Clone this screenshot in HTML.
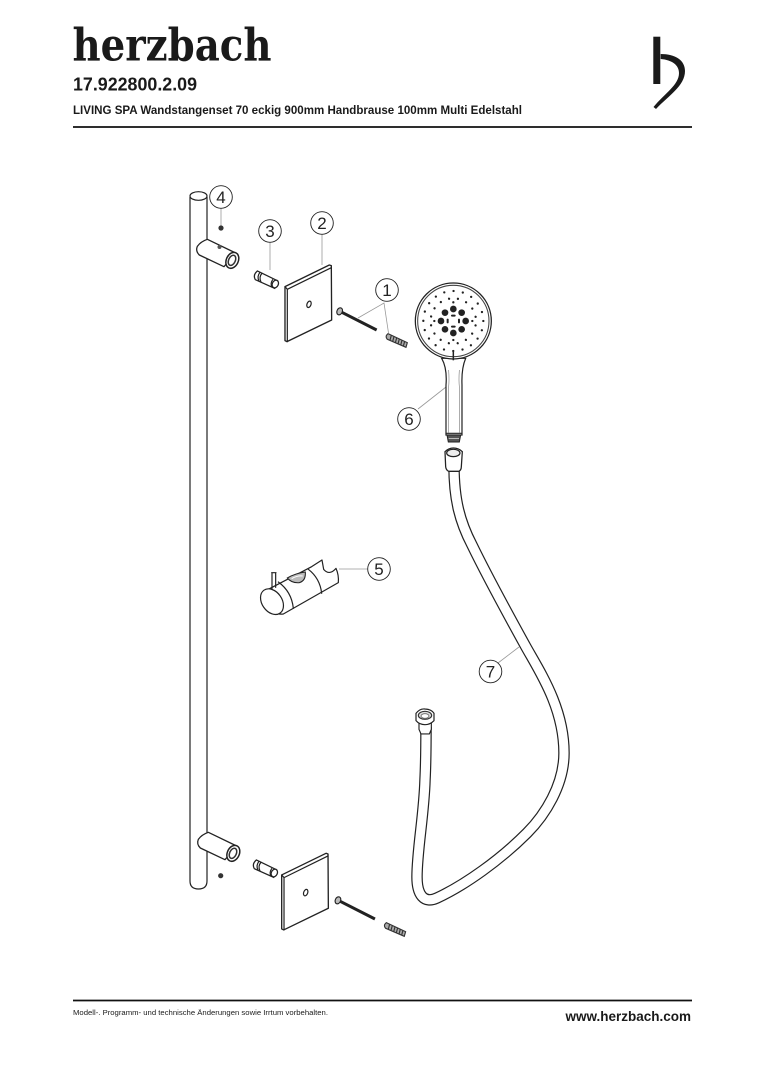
<!DOCTYPE html>
<html><head><meta charset="utf-8"><style>
html,body{margin:0;padding:0;background:#fff;width:764px;height:1080px;overflow:hidden}
svg{display:block}
text{font-family:"Liberation Sans",sans-serif;fill:#1a1a1a}
.n{font-size:17px;text-anchor:middle;fill:#222}
.c{fill:#fff;stroke:#222;stroke-width:.9}
.l{stroke:#999;stroke-width:.8;fill:none}
.k{fill:none;stroke:#222;stroke-width:1.1;stroke-linejoin:round;stroke-linecap:round}
.z .k{stroke-width:3.6}
</style></head><body>
<svg width="764" height="1080" viewBox="0 0 764 1080" xmlns="http://www.w3.org/2000/svg">
<defs>
<g id="bracket" class="z" transform="scale(.3333)">
<path d="M112 193L197 234L162 275L88 240Q76 228 82 214Q92 200 112 193Z" fill="#fff" stroke="#222" stroke-width="3.8" stroke-linejoin="round"/>
<ellipse cx="187" cy="256" rx="18" ry="25" transform="rotate(25 187 256)" fill="#fff" stroke="#222" stroke-width="4.5"/>
<ellipse cx="186" cy="256" rx="10" ry="16" transform="rotate(25 186 256)" fill="#fff" stroke="#333" stroke-width="4.5"/>
</g>
<g id="pin" class="z" transform="scale(.3333)">
<path d="M262 288L320 316L314 340L256 314Q248 300 262 288Z" fill="#fff" stroke="#222" stroke-width="3.8"/>
<ellipse cx="316" cy="327" rx="9" ry="12" transform="rotate(25 316 327)" fill="#fff" stroke="#222" stroke-width="3.8"/>
<path d="M270 292Q260 304 267 318M276 295Q266 306 273 321M308 314Q300 326 306 336" class="k"/>
</g>
<g id="plate" class="z" transform="scale(.3333)">
<path d="M345 335L478 270L484 272L485 435L351 500L345 497Z" fill="#fff" stroke="#222" stroke-width="4" stroke-linejoin="round"/>
<path d="M345 335L352 343L484 278M352 343V500" class="k"/>
<ellipse cx="417" cy="388" rx="6" ry="10" transform="rotate(20 417 388)" fill="#fff" stroke="#222" stroke-width="3.6"/>
</g>
<g id="screw" class="z" transform="scale(.3333)">
<path d="M512 410L620 465" stroke="#222" stroke-width="9" fill="none"/>
<ellipse cx="509" cy="409" rx="8" ry="11" transform="rotate(25 509 409)" fill="#bbb" stroke="#222" stroke-width="3.4"/>
</g>
<g id="anchor" class="z" transform="scale(.3333)">
<path d="M654 476L712 503L708 517L652 493Q644 484 654 476Z" fill="#aaa" stroke="#333" stroke-width="3.4"/>
<path d="M664 481L660 496M672 485L668 500M680 489L676 504M688 492L684 507M696 496L692 511M704 499L700 514" stroke="#333" stroke-width="3.4"/>
</g>
</defs>

<text x="72.500" y="60.700" font-size="45" textLength="199" lengthAdjust="spacingAndGlyphs" style="font-family:'DejaVu Serif',serif;font-weight:bold">herzbach</text>
<text x="73" y="90.700" font-size="18" font-weight="bold" textLength="124" lengthAdjust="spacingAndGlyphs">17.922800.2.09</text>
<text x="73" y="114" font-size="12" font-weight="bold" textLength="449" lengthAdjust="spacingAndGlyphs">LIVING SPA Wandstangenset 70 eckig 900mm Handbrause 100mm Multi Edelstahl</text>
<path d="M73 127H692" stroke="#111" stroke-width="1.8"/>
<rect x="653.300" y="36.700" width="7" height="47.300" fill="#1a1a1a"/>
<path d="M660.700 54C675 54 685 60 685 71C685 86 668 96 656 109L653.500 107C665 93 679 85 679 73C679 65 672 60 660.700 59Z" fill="#1a1a1a"/>

<path d="M190 197V881Q190 889 198.500 889Q207 889 207 881V197" fill="#fff" stroke="#222" stroke-width="1.2"/>
<ellipse cx="198.500" cy="196" rx="8.500" ry="4.300" fill="#fff" stroke="#222" stroke-width="1.200"/>

<path d="M221 208V226M322 234V265M270 242V270M358 318L384 303L388.500 333M418 409L446 387M390 569H339M498 663L519 647" class="l"/>

<g transform="translate(170 175)"><use href="#bracket"/><use href="#pin"/><use href="#plate"/><use href="#screw"/><use href="#anchor"/></g>
<g transform="translate(171 768)"><use href="#bracket"/></g>
<g transform="translate(169 764)"><use href="#pin"/></g>
<g transform="translate(166.700 763.300)"><use href="#plate"/></g>
<g transform="translate(168.300 764)"><use href="#screw"/><use href="#anchor"/></g>
<circle cx="221" cy="228" r="2.600" fill="#333"/>
<circle cx="220.700" cy="875.700" r="2.600" fill="#333"/>
<circle cx="219.500" cy="247" r="2" fill="#555"/>

<!-- hose -->
<path d="M454 466C454 500 460 522 472 545C488 578 510 618 526 647C540 672 564 708 564 753C564 785 545 815 527 833C500 860 465 885 437 898C424 904 417 895 417 877C417 850 424 815 425 780C426 760 426 745 426 727" fill="none" stroke="#222" stroke-width="11.500"/>
<path d="M454 466C454 500 460 522 472 545C488 578 510 618 526 647C540 672 564 708 564 753C564 785 545 815 527 833C500 860 465 885 437 898C424 904 417 895 417 877C417 850 424 815 425 780C426 760 426 745 426 727" fill="none" stroke="#fff" stroke-width="9.100"/>

<!-- end fitting -->
<g class="z" transform="translate(400 690) scale(.3333)">
<path d="M57 100V118L63 132H88L94 118V100Z" fill="#fff" stroke="#222" stroke-width="3.4"/>
<path d="M48 70Q60 55 75 57Q95 58 102 70V92Q90 104 75 104Q58 104 48 92Z" fill="#fff" stroke="#222" stroke-width="3.6"/>
<ellipse cx="75" cy="76" rx="20" ry="12" fill="#ddd" stroke="#333" stroke-width="3.4"/>
<ellipse cx="75" cy="78" rx="12" ry="7" fill="#fff" stroke="#666" stroke-width="2.500"/>
</g>

<!-- shower head -->
<g class="z" transform="translate(400 270) scale(.3333)">
<path d="M125 265Q142 295 138 345V495H186V345Q184 295 197 265Z" fill="#fff" stroke="#222" stroke-width="3.6"/>
<path d="M146 300Q148 330 146 350V488M178 300Q176 330 178 350V488" fill="none" stroke="#777" stroke-width="1.800"/>
<path d="M138 490H186" class="k"/>
<circle cx="160" cy="153" r="114" fill="#fff" stroke="#222" stroke-width="3.800"/>
<circle cx="160" cy="153" r="107" fill="#fff" stroke="#444" stroke-width="3.200"/>
<path d="M160 246V271" stroke="#222" stroke-width="4.500"/>
<circle cx="160" cy="153" r="90" fill="none" stroke="#222" stroke-width="7" stroke-linecap="round" stroke-dasharray="0 28.274"/>
<circle cx="160" cy="153" r="68" fill="none" stroke="#222" stroke-width="7" stroke-linecap="round" stroke-dasharray="0 26.704" transform="rotate(11.250 160 153)"/>
<g fill="#222">
<circle cx="160" cy="117" r="10"/><circle cx="160" cy="189" r="10"/><circle cx="123" cy="153" r="10"/><circle cx="197" cy="153" r="10"/>
<circle cx="135" cy="128" r="10"/><circle cx="185" cy="128" r="10"/><circle cx="135" cy="178" r="10"/><circle cx="185" cy="178" r="10"/>
<rect x="153" y="134" width="14" height="6" rx="3"/><rect x="153" y="167" width="14" height="6" rx="3"/>
<rect x="140" y="146" width="6" height="14" rx="3"/><rect x="174" y="146" width="6" height="14" rx="3"/>
<circle cx="160" cy="97" r="3.500"/><circle cx="160" cy="210" r="3.500"/><circle cx="103" cy="153" r="3.500"/><circle cx="217" cy="153" r="3.500"/>
</g>
<path d="M141 495L145 516H178L182 495Z" fill="#555" stroke="#222" stroke-width="3"/>
<path d="M146 506H177" stroke="#eee" stroke-width="2"/>
</g>

<!-- hose top fitting -->
<g class="z" transform="translate(400 270) scale(.3333)">
<path d="M135 545Q146 534 160 534Q176 534 187 545L184 590Q184 600 177 604H146Q138 600 137 590Z" fill="#fff" stroke="#222" stroke-width="3.800"/>
<ellipse cx="160" cy="549" rx="20" ry="11" fill="#eee" stroke="#222" stroke-width="3.600"/>
</g>

<!-- clamp -->
<g class="z" transform="translate(240 550) scale(.3333)">
<path d="M85 118L215 50L246 30L251 58Q268 78 288 55Q297 75 295 98L130 192Q100 195 75 172Z" fill="#fff" stroke="#222" stroke-width="3.600" stroke-linejoin="round"/>
<path d="M96 70V118M107 68V112M95 68H108" class="k"/>
<path d="M205 58Q240 85 245 130" class="k"/>
<path d="M115 96Q155 125 160 175" class="k"/>
<path d="M142 84Q165 70 196 66Q198 92 178 98Q155 100 142 84Z" fill="#bbb" stroke="#222" stroke-width="3.200"/>
<path d="M155 86Q172 76 188 78" fill="none" stroke="#fff" stroke-width="3"/>
<ellipse cx="96" cy="155" rx="30" ry="42" transform="rotate(-35 96 155)" fill="#fff" stroke="#222" stroke-width="3.600"/>
</g>

<g>
<circle class="c" cx="221" cy="197" r="11.300"/><text class="n" x="221" y="203">4</text>
<circle class="c" cx="322" cy="223" r="11.300"/><text class="n" x="322" y="229">2</text>
<circle class="c" cx="270" cy="231" r="11.300"/><text class="n" x="270" y="237">3</text>
<circle class="c" cx="387" cy="290" r="11.300"/><text class="n" x="387" y="296">1</text>
<circle class="c" cx="409" cy="419" r="11.300"/><text class="n" x="409" y="425">6</text>
<circle class="c" cx="379" cy="569" r="11.300"/><text class="n" x="379" y="575">5</text>
<circle class="c" cx="490.500" cy="671.500" r="11.300"/><text class="n" x="490.500" y="677.500">7</text>
</g>

<path d="M73 1000.500H692" stroke="#111" stroke-width="1.800"/>
<text x="73" y="1015" font-size="7" textLength="255" lengthAdjust="spacingAndGlyphs" fill="#333">Modell-. Programm- und technische Änderungen sowie Irrtum vorbehalten.</text>
<text x="691" y="1021" font-size="13.500" font-weight="bold" text-anchor="end">www.herzbach.com</text>
</svg>
</body></html>
